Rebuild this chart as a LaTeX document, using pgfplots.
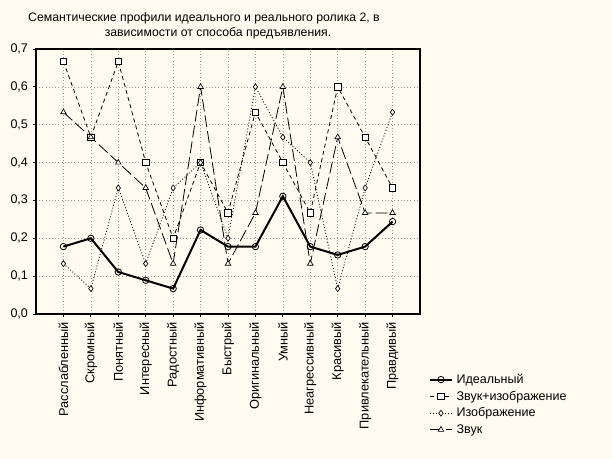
\documentclass[border=0pt]{standalone}
\usepackage{pgfplots}
\pgfplotsset{compat=1.18}
\usepackage{fontspec}
\setmainfont{Liberation Sans}
\definecolor{bg}{RGB}{255,251,240}
\definecolor{gridc}{RGB}{150,150,150}
\begin{document}
\begin{tikzpicture}
\path[fill=bg, use as bounding box] (0pt,0pt) rectangle (459pt,344.25pt);
\node[font=\fontsize{9.2}{11}\selectfont, inner sep=0pt] at (153pt,330.75pt) {Семантические профили идеального и реального ролика 2, в};
\node[font=\fontsize{9.2}{11}\selectfont, inner sep=0pt] at (163.5pt,319.5pt) {зависимости от способа предъявления.};
\begin{axis}[
  at={(27pt,108.75pt)}, anchor=south west,
  width=288pt, height=198.75pt, scale only axis,
  xmin=-1, xmax=13, ymin=0, ymax=0.7,
  xtick={0,1,2,3,4,5,6,7,8,9,10,11,12},
  xticklabels={Расслабленный,Скромный,Понятный,Интересный,Радостный,Информативный,Быстрый,Оригинальный,Умный,Неагрессивный,Красивый,Привлекательный,Правдивый},
  xticklabel style={rotate=90, anchor=east, font=\fontsize{9.6}{11}\selectfont},
  ytick={0,0.1,0.2,0.3,0.4,0.5,0.6,0.7},
  yticklabel style={font=\fontsize{9.4}{11}\selectfont},
  /pgf/number format/assume math mode=true,
  yticklabel={\pgfmathprintnumber[fixed,fixed zerofill,precision=1,use comma]{\tick}},
  tick align=outside, tick pos=left, major tick length=2.5pt,
  tick style={black, line width=0.6pt},
  grid=major,
  major grid style={gridc, dotted, line width=0.5pt},
  axis line style={black, line width=0.8pt},
  axis background/.style={fill=bg},
  legend style={at={(1.02,-0.21)}, anchor=north west, draw=none, fill=none,
     font=\fontsize{9.4}{11}\selectfont, row sep=0.2pt, inner sep=1pt,
     nodes={inner xsep=3pt}},
  legend image code/.code={\draw[mark repeat=2,mark phase=2,#1] plot coordinates {(0pt,0pt) (8pt,0pt) (16pt,0pt)};},
  legend cell align=left,
]
\addplot[black, line width=1.5pt, mark=o, mark size=2.4pt, mark options={solid, fill=white, line width=0.6pt}]
 coordinates {(0,0.178)(1,0.2)(2,0.111)(3,0.089)(4,0.067)(5,0.222)(6,0.178)(7,0.178)(8,0.311)(9,0.178)(10,0.156)(11,0.178)(12,0.244)};
\addlegendentry{Идеальный}
\addplot[black, line width=0.6pt, dash pattern=on 3pt off 2.5pt, mark=square*, mark size=2.4pt, mark options={solid, fill=white, line width=0.6pt}]
 coordinates {(0,0.667)(1,0.467)(2,0.667)(3,0.4)(4,0.2)(5,0.4)(6,0.267)(7,0.533)(8,0.4)(9,0.267)(10,0.6)(11,0.467)(12,0.333)};
\addlegendentry{Звук+изображение}
\addplot[black, line width=0.6pt, dash pattern=on 0.75pt off 1.5pt, mark=diamond*, mark size=2.2pt, mark options={solid, fill=white, line width=0.5pt}]
 coordinates {(0,0.133)(1,0.067)(2,0.333)(3,0.133)(4,0.333)(5,0.4)(6,0.2)(7,0.6)(8,0.467)(9,0.4)(10,0.067)(11,0.333)(12,0.533)};
\addlegendentry{Изображение}
\addplot[black, line width=0.6pt, dash pattern=on 9pt off 3pt, mark=triangle*, mark size=2.4pt, mark options={solid, fill=white, line width=0.5pt}]
 coordinates {(0,0.533)(1,0.467)(2,0.4)(3,0.333)(4,0.133)(5,0.6)(6,0.133)(7,0.267)(8,0.6)(9,0.133)(10,0.467)(11,0.267)(12,0.267)};
\addlegendentry{Звук}
\end{axis}
\end{tikzpicture}
\end{document}
